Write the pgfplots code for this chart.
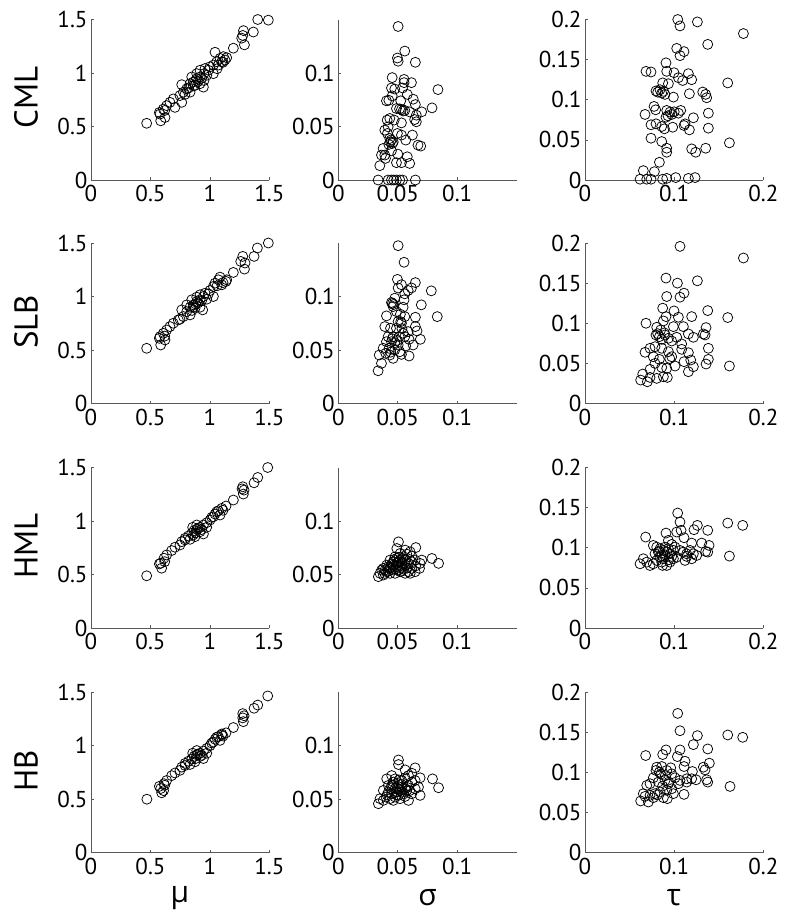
\documentclass[border=0pt]{standalone}
\usepackage{fontspec}
\setmainfont{PT Sans}
\newfontfamily\grk{Open Sans}
\usepackage{pgfplots}
\pgfplotsset{compat=1.18}
\newcommand\tickfont{\fontsize{23}{26}\selectfont}
\pgfplotsset{
 panel/.style={scale only axis, width=178.4pt, height=160.5pt, anchor=south west,
   axis x line*=bottom, axis y line*=left,
   axis line style={black!65, line width=0.7pt},
   every tick/.style={black!65, line width=0.6pt},
   major tick length=3pt, tick align=inside,
   tick label style={font=\tickfont, text=black},
   xticklabel style={yshift=-2pt},
   /pgf/number format/assume math mode=true,
   scaled ticks=false,
   /pgf/number format/fixed, /pgf/number format/precision=2,
   clip=false},
 mucol/.style={panel, xmin=0,xmax=1.5,ymin=0,ymax=1.5, xtick={0,0.5,1,1.5}, ytick={0,0.5,1,1.5}},
 sigcol/.style={panel, xmin=0,xmax=0.15,ymin=0,ymax=0.15, xtick={0,0.05,0.1}, ytick={0,0.05,0.1}},
 taucol/.style={panel, xmin=0,xmax=0.2,ymin=0,ymax=0.2, xtick={0,0.1,0.2}, ytick={0,0.05,0.1,0.15,0.2}},
 pts/.style={only marks, mark=o, mark size=5pt, black, mark options={line width=0.75pt}},
}
\begin{document}
\begin{tikzpicture}
\useasboundingbox (0pt,0pt) rectangle (795pt,-919pt);
% ---------------- Row 1: CML ----------------
\begin{axis}[mucol, at={(91pt,-180pt)}]
\addplot[pts] coordinates {(0.468,0.530)(1.402,1.5)(1.491,1.494)(1.365,1.383)(1.282,1.396)(1.276,1.351)(1.29,1.263)(1.267,1.326)(1.197,1.232)(1.043,1.194)(1.113,1.153)(1.127,1.121)(1.085,1.137)(1.057,1.105)(1.029,1.074)(1.001,1.058)(0.987,1.026)(1.029,0.994)(0.950,0.994)(0.917,0.963)(0.889,0.947)(0.861,0.916)(0.833,0.900)(0.875,0.884)(0.917,0.900)(0.945,0.868)(0.805,0.853)(0.763,0.891)(0.777,0.821)(0.833,0.821)(0.748,0.789)(0.692,0.758)(0.763,0.726)(0.706,0.679)(0.636,0.695)(0.608,0.663)(0.580,0.616)(0.622,0.584)(0.586,0.553)(0.575,0.631)(0.917,1.026)(0.959,1.042)(0.889,0.994)(0.847,0.963)(0.973,0.979)(1.071,1.074)(1.099,1.105)(1.141,1.143)(0.664,0.726)(0.88,0.93)(0.90,0.92)(0.86,0.88)(0.93,0.95)(0.82,0.86)(0.95,0.93)(0.62,0.65)(1.11,1.10)(1.06,1.04)(0.79,0.80)};
\end{axis}
\begin{axis}[sigcol, at={(338.3pt,-180pt)}]
\addplot[pts] coordinates {(0.0503,0.1435)(0.0559,0.1205)(0.0497,0.114)(0.0503,0.111)(0.0648,0.110)(0.0838,0.0845)(0.0788,0.0674)(0.0701,0.0637)(0.0453,0.0957)(0.0553,0.094)(0.0553,0.091)(0.0615,0.091)(0.054,0.086)(0.0447,0.086)(0.0475,0.085)(0.058,0.080)(0.0453,0.0786)(0.0405,0.074)(0.0425,0.0745)(0.0525,0.074)(0.063,0.0755)(0.0648,0.0705)(0.0489,0.0668)(0.0531,0.0658)(0.0559,0.065)(0.060,0.0637)(0.0656,0.0606)(0.0642,0.0565)(0.0656,0.0544)(0.0433,0.0575)(0.0411,0.056)(0.047,0.056)(0.0419,0.0497)(0.0531,0.0534)(0.0391,0.0466)(0.0413,0.0435)(0.0497,0.0435)(0.0531,0.042)(0.0567,0.0373)(0.0623,0.042)(0.0433,0.0388)(0.0439,0.0357)(0.0455,0.0342)(0.0425,0.0332)(0.067,0.0326)(0.0693,0.0317)(0.0377,0.0295)(0.0447,0.0273)(0.0363,0.0233)(0.0391,0.0233)(0.050,0.0242)(0.0397,0.0202)(0.058,0.0217)(0.0489,0.0162)(0.0531,0.0162)(0.060,0.0155)(0.0349,0.0134)(0.0335,0)(0.0419,0)(0.0447,0)(0.0466,0)(0.0489,0)(0.0517,0)(0.054,0)(0.0648,0)(0.0445,0.0375)(0.0462,0.0355)(0.0515,0.0665)(0.0545,0.0645)};
\end{axis}
\begin{axis}[taucol, at={(585pt,-180pt)}]
\addplot[pts] coordinates {(0.104,0.2)(0.1065,0.192)(0.126,0.197)(0.1776,0.1825)(0.1376,0.169)(0.1028,0.164)(0.111,0.16)(0.1065,0.155)(0.0908,0.146)(0.0684,0.1354)(0.074,0.1346)(0.0916,0.1354)(0.0998,0.1337)(0.1159,0.1325)(0.1047,0.1275)(0.1095,0.124)(0.1196,0.125)(0.16,0.121)(0.0871,0.121)(0.0935,0.12)(0.0796,0.111)(0.0841,0.1125)(0.086,0.1083)(0.0897,0.1067)(0.0991,0.1033)(0.117,0.1075)(0.132,0.1096)(0.1353,0.1067)(0.1364,0.1025)(0.1383,0.0833)(0.0774,0.0917)(0.0792,0.0875)(0.0673,0.0817)(0.0916,0.0867)(0.0953,0.0846)(0.0972,0.0817)(0.0908,0.0783)(0.1073,0.0867)(0.1047,0.0833)(0.1215,0.0775)(0.1121,0.07)(0.111,0.0679)(0.0983,0.0658)(0.117,0.0625)(0.074,0.0688)(0.0796,0.07)(0.086,0.0667)(0.089,0.0638)(0.1383,0.0646)(0.1619,0.0463)(0.074,0.0521)(0.086,0.0479)(0.0916,0.0396)(0.0916,0.0346)(0.1196,0.0388)(0.1241,0.0346)(0.1353,0.0396)(0.0834,0.0221)(0.0654,0.0117)(0.0778,0.0104)(0.0617,0.001)(0.0692,0.001)(0.074,0.001)(0.0871,0.001)(0.0916,0.002)(0.1017,0.003)(0.1159,0.002)(0.1234,0.003)(0.0815,0.1095)(0.0880,0.1105)(0.0930,0.0800)(0.1000,0.0850)};
\end{axis}
% ---------------- Row 2: SLB ----------------
\begin{axis}[mucol, at={(91pt,-403.5pt)}]
\addplot[pts] coordinates {(0.468,0.516)(1.491,1.5)(1.399,1.453)(1.371,1.375)(1.276,1.375)(1.259,1.328)(1.295,1.313)(1.29,1.256)(1.197,1.225)(1.135,1.141)(1.085,1.181)(1.071,1.156)(1.043,1.125)(1.029,1.094)(1.001,1.056)(0.987,1.025)(1.029,1.0)(0.945,1.0)(0.917,0.969)(0.889,0.953)(0.861,0.922)(0.833,0.9)(0.875,0.891)(0.917,0.9)(0.939,0.875)(0.805,0.859)(0.763,0.875)(0.777,0.8125)(0.833,0.828)(0.748,0.788)(0.692,0.75)(0.664,0.719)(0.636,0.6875)(0.608,0.656)(0.580,0.625)(0.622,0.594)(0.586,0.547)(0.575,0.609)(0.917,1.016)(0.959,1.031)(0.889,0.994)(0.847,0.969)(0.973,0.975)(1.099,1.109)(1.141,1.156)(0.805,0.922)(0.734,0.781)(0.88,0.93)(0.90,0.94)(0.86,0.90)(0.93,0.96)(0.85,0.87)(1.11,1.13)(1.06,1.10)(0.62,0.63)};
\end{axis}
\begin{axis}[sigcol, at={(338.3pt,-403.5pt)}]
\addplot[pts] coordinates {(0.0503,0.1475)(0.0553,0.132)(0.0497,0.116)(0.0648,0.113)(0.0531,0.111)(0.0503,0.108)(0.0615,0.108)(0.0782,0.1053)(0.0587,0.1056)(0.0559,0.1025)(0.0475,0.0984)(0.0553,0.0969)(0.0447,0.0944)(0.0698,0.0922)(0.0461,0.0906)(0.0545,0.09)(0.0489,0.0859)(0.0522,0.0834)(0.0405,0.0819)(0.0559,0.0812)(0.0832,0.0812)(0.0648,0.0806)(0.0503,0.0766)(0.0531,0.075)(0.0391,0.0719)(0.0648,0.0719)(0.0439,0.0703)(0.0489,0.0703)(0.0662,0.0678)(0.0587,0.0672)(0.0545,0.0656)(0.0419,0.0625)(0.0461,0.0625)(0.0511,0.0625)(0.0559,0.0625)(0.069,0.06)(0.0595,0.06)(0.0405,0.0578)(0.0447,0.0578)(0.0475,0.0569)(0.0503,0.0547)(0.0567,0.0538)(0.0629,0.0547)(0.0377,0.0516)(0.0427,0.0516)(0.0475,0.05)(0.0517,0.0484)(0.0399,0.0469)(0.0433,0.0453)(0.0531,0.0459)(0.0595,0.0444)(0.0461,0.0422)(0.0344,0.0453)(0.0363,0.0375)(0.0335,0.0306)(0.0455,0.0935)(0.0465,0.0925)(0.0525,0.0765)(0.0455,0.0605)(0.0495,0.0590)(0.0535,0.0700)(0.0440,0.0480)};
\end{axis}
\begin{axis}[taucol, at={(585pt,-403.5pt)}]
\addplot[pts] coordinates {(0.1065,0.1958)(0.1776,0.1813)(0.0908,0.1563)(0.1036,0.15)(0.126,0.1529)(0.111,0.1375)(0.1065,0.1325)(0.0916,0.1333)(0.0871,0.1188)(0.0998,0.1154)(0.1376,0.1158)(0.1047,0.1075)(0.1196,0.1083)(0.16,0.1071)(0.0908,0.1083)(0.0879,0.1029)(0.0684,0.1)(0.1103,0.0958)(0.0991,0.0958)(0.1357,0.0946)(0.1327,0.0867)(0.1346,0.0854)(0.1159,0.0867)(0.1215,0.0825)(0.0804,0.095)(0.0849,0.0917)(0.0796,0.0854)(0.0834,0.0833)(0.0897,0.0854)(0.0935,0.0813)(0.0972,0.0779)(0.1028,0.0825)(0.1084,0.0742)(0.0785,0.0708)(0.0729,0.0688)(0.086,0.0688)(0.0935,0.0646)(0.1084,0.0675)(0.1383,0.0688)(0.0673,0.0638)(0.0972,0.0583)(0.0766,0.0583)(0.0834,0.055)(0.1159,0.0633)(0.111,0.0521)(0.1185,0.0542)(0.1215,0.0458)(0.1383,0.055)(0.1357,0.0492)(0.1619,0.0467)(0.1009,0.0467)(0.1159,0.0396)(0.0785,0.05)(0.0729,0.0425)(0.086,0.045)(0.0916,0.0438)(0.0647,0.0367)(0.0729,0.0325)(0.0879,0.0333)(0.0923,0.0325)(0.0624,0.0292)(0.0699,0.0271)(0.0804,0.0313)(0.0815,0.0870)(0.0860,0.0800)(0.0890,0.0880)(0.0950,0.0560)};
\end{axis}
% ---------------- Row 3: HML ----------------
\begin{axis}[mucol, at={(91pt,-628pt)}]
\addplot[pts] coordinates {(0.468,0.488)(1.486,1.5)(1.402,1.407)(1.371,1.357)(1.276,1.32)(1.287,1.289)(1.281,1.252)(1.197,1.196)(1.135,1.14)(1.099,1.118)(1.071,1.096)(1.043,1.065)(1.029,1.04)(1.001,1.009)(0.973,0.984)(0.945,0.963)(0.917,0.941)(0.889,0.922)(0.866,0.910)(0.847,0.885)(0.819,0.860)(0.791,0.839)(0.763,0.807)(0.748,0.776)(0.706,0.755)(0.678,0.724)(0.636,0.683)(0.614,0.652)(0.586,0.606)(0.594,0.559)(0.575,0.599)(0.945,0.879)(0.889,0.963)(0.917,0.9)(0.833,0.829)(0.791,0.823)(0.973,0.941)(0.875,0.854)(0.855,0.941)(1.057,1.087)(1.015,1.034)(1.085,1.056)(0.90,0.93)(0.88,0.89)(0.93,0.92)(0.86,0.87)(1.11,1.10)(0.62,0.62)(1.27,1.30)};
\end{axis}
\begin{axis}[sigcol, at={(338.3pt,-628pt)}]
\addplot[pts] coordinates {(0.0506,0.0805)(0.0492,0.0743)(0.0652,0.0752)(0.0787,0.065)(0.0843,0.0604)(0.0702,0.0635)(0.0337,0.048)(0.0351,0.0511)(0.0379,0.0495)(0.0407,0.0526)(0.0435,0.0557)(0.0463,0.0588)(0.0492,0.0604)(0.052,0.0635)(0.0548,0.0666)(0.0576,0.069)(0.0604,0.0712)(0.0435,0.0635)(0.0407,0.0588)(0.0463,0.0542)(0.0506,0.0542)(0.0534,0.0567)(0.0562,0.0588)(0.059,0.0604)(0.0618,0.0619)(0.0646,0.0635)(0.0618,0.0557)(0.059,0.0526)(0.0562,0.0511)(0.0604,0.0511)(0.0646,0.0526)(0.0683,0.0557)(0.0688,0.0604)(0.052,0.0526)(0.0478,0.0511)(0.0435,0.0511)(0.0393,0.0542)(0.0379,0.0557)(0.0478,0.0666)(0.052,0.0697)(0.0562,0.0728)(0.0492,0.0573)(0.0534,0.0604)(0.0463,0.0619)(0.0492,0.065)(0.0421,0.0573)(0.0365,0.0542)(0.0618,0.0672)(0.0562,0.0635)(0.0450,0.0600)(0.0505,0.0620)(0.0480,0.0550)(0.0520,0.0580)(0.0550,0.0550)(0.0470,0.0640)(0.0540,0.0650)(0.0510,0.0660)(0.0420,0.0530)(0.0580,0.0560)(0.0440,0.0570)(0.0500,0.0590)(0.0600,0.0640)(0.0650,0.0580)(0.0390,0.0510)(0.0530,0.0530)};
\end{axis}
\begin{axis}[taucol, at={(585pt,-628pt)}]
\addplot[pts] coordinates {(0.1039,0.1433)(0.1065,0.1321)(0.1768,0.1279)(0.16,0.1308)(0.126,0.1279)(0.1222,0.1225)(0.1376,0.1217)(0.1028,0.1196)(0.1077,0.1217)(0.0908,0.1183)(0.111,0.1125)(0.068,0.1133)(0.1196,0.1058)(0.1308,0.1058)(0.1391,0.1029)(0.1353,0.0954)(0.1376,0.0946)(0.1619,0.0896)(0.0935,0.1092)(0.0972,0.1042)(0.1009,0.1008)(0.0766,0.1029)(0.0804,0.1008)(0.0841,0.0988)(0.0879,0.0967)(0.0916,0.0946)(0.0953,0.0925)(0.0991,0.0967)(0.1065,0.0967)(0.1103,0.0946)(0.1140,0.0925)(0.1178,0.0967)(0.1215,0.0925)(0.1252,0.0904)(0.1121,0.0842)(0.1028,0.0883)(0.0617,0.08)(0.0654,0.0863)(0.0692,0.0821)(0.0729,0.0779)(0.0766,0.08)(0.0804,0.0842)(0.0841,0.0883)(0.0879,0.0863)(0.0916,0.0779)(0.0953,0.0821)(0.0991,0.0863)(0.086,0.0821)(0.0785,0.0925)(0.0822,0.0946)(0.0897,0.1008)(0.0935,0.0988)(0.0972,0.0892)(0.114,0.0892)(0.1196,0.0863)(0.0860,0.0900)(0.0900,0.0910)(0.0830,0.0960)(0.0870,0.0780)(0.0940,0.0850)};
\end{axis}
% ---------------- Row 4: HB ----------------
\begin{axis}[mucol, at={(91pt,-852.7pt)}]
\addplot[pts] coordinates {(0.47,0.50)(1.486,1.465)(1.402,1.38)(1.371,1.35)(1.276,1.30)(1.287,1.28)(1.281,1.225)(1.276,1.26)(1.197,1.17)(1.135,1.12)(1.099,1.10)(1.071,1.085)(1.043,1.06)(1.029,1.035)(1.001,1.0)(0.973,0.975)(0.945,0.95)(0.917,0.93)(0.889,0.915)(0.866,0.90)(0.847,0.875)(0.819,0.855)(0.791,0.835)(0.763,0.80)(0.748,0.77)(0.706,0.745)(0.678,0.72)(0.636,0.675)(0.614,0.645)(0.586,0.60)(0.594,0.56)(0.575,0.62)(0.945,0.88)(0.889,0.955)(0.917,0.90)(0.833,0.825)(0.791,0.815)(0.973,0.93)(0.875,0.85)(0.855,0.93)(1.057,1.08)(1.015,1.025)(1.085,1.05)(1.10,1.11)(0.61,0.58)(0.90,0.92)(0.88,0.88)(0.93,0.91)(1.11,1.09)(0.62,0.63)};
\end{axis}
\begin{axis}[sigcol, at={(338.3pt,-852.7pt)}]
\addplot[pts] coordinates {(0.0506,0.0867)(0.0506,0.0824)(0.0646,0.0793)(0.0562,0.0774)(0.0792,0.069)(0.0843,0.0607)(0.0688,0.07)(0.0674,0.0613)(0.0646,0.0598)(0.0688,0.0536)(0.059,0.0489)(0.0337,0.0458)(0.0351,0.0505)(0.0379,0.0489)(0.0402,0.052)(0.0421,0.0567)(0.0407,0.069)(0.0449,0.0721)(0.0478,0.069)(0.0449,0.0629)(0.0478,0.0598)(0.0506,0.0644)(0.0534,0.0675)(0.0562,0.07)(0.059,0.0721)(0.0618,0.0743)(0.0449,0.0551)(0.0478,0.052)(0.0506,0.0536)(0.0534,0.0567)(0.0562,0.0598)(0.059,0.0629)(0.0618,0.066)(0.0646,0.0675)(0.052,0.0505)(0.0562,0.0526)(0.0618,0.0551)(0.0435,0.0505)(0.0463,0.0489)(0.0506,0.0598)(0.0492,0.0567)(0.0534,0.0613)(0.0463,0.066)(0.0576,0.0582)(0.0379,0.0582)(0.0421,0.0629)(0.0470,0.0560)(0.0500,0.0620)(0.0520,0.0580)(0.0550,0.0550)(0.0440,0.0600)(0.0490,0.0540)(0.0530,0.0640)(0.0580,0.0610)(0.0410,0.0540)(0.0600,0.0580)(0.0510,0.0680)(0.0460,0.0630)};
\end{axis}
\begin{axis}[taucol, at={(585pt,-852.7pt)}]
\addplot[pts] coordinates {(0.1039,0.1736)(0.1065,0.152)(0.126,0.1459)(0.16,0.1467)(0.1768,0.1438)(0.1215,0.1347)(0.1376,0.1293)(0.0908,0.1281)(0.1065,0.1281)(0.068,0.1211)(0.0871,0.1223)(0.1036,0.1198)(0.1121,0.114)(0.1394,0.1116)(0.111,0.1074)(0.1327,0.1066)(0.1346,0.1033)(0.1204,0.1012)(0.0796,0.1025)(0.0834,0.1004)(0.0916,0.1025)(0.0972,0.0983)(0.1009,0.0934)(0.1065,0.0901)(0.114,0.0921)(0.1196,0.0921)(0.1245,0.0909)(0.1364,0.0909)(0.1376,0.088)(0.1626,0.0826)(0.0766,0.0934)(0.0729,0.086)(0.0692,0.0839)(0.0822,0.088)(0.0897,0.0901)(0.0935,0.086)(0.0972,0.0797)(0.0916,0.0777)(0.0841,0.0756)(0.0785,0.0736)(0.0729,0.0715)(0.0673,0.0702)(0.0624,0.0645)(0.071,0.0632)(0.0654,0.0736)(0.0766,0.0686)(0.0879,0.0686)(0.0923,0.0674)(0.111,0.0727)(0.0991,0.0736)(0.1047,0.086)(0.114,0.088)(0.0804,0.1066)(0.0860,0.1074)(0.0961,0.1058)(0.0850,0.0980)(0.0900,0.0960)(0.0870,0.0830)(0.0940,0.0880)(0.0810,0.0720)};
\end{axis}
% ---------------- labels ----------------
\node[rotate=90, font=\fontsize{33}{33}\selectfont] at (26pt,-97pt) {CML};
\node[rotate=90, font=\fontsize{33}{33}\selectfont] at (26pt,-322pt) {SLB};
\node[rotate=90, font=\fontsize{33}{33}\selectfont] at (26pt,-546pt) {HML};
\node[rotate=90, font=\fontsize{33}{33}\selectfont] at (26pt,-771pt) {HB};
\node[font=\grk\fontsize{30}{30}\selectfont] at (180pt,-898pt) {μ};
\node[font=\grk\fontsize{30}{30}\selectfont] at (427.5pt,-898pt) {σ};
\node[font=\grk\fontsize{30}{30}\selectfont] at (674pt,-898pt) {τ};
\end{tikzpicture}
\end{document}
